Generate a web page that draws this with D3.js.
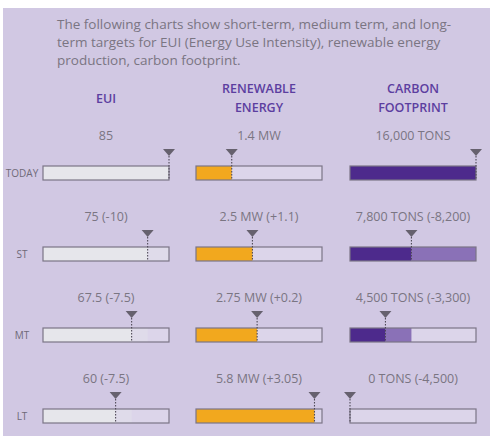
<!DOCTYPE html>
<html>
<head>
<meta charset="utf-8">
<script src="https://cdn.jsdelivr.net/npm/d3@7"></script>
<style>
  body { margin: 0; background: #fff; }
  svg { display: block; font-family: "Open Sans", sans-serif; }
</style>
</head>
<body>
<div id="chart"></div>
<script>
var width = 490,
    height = 436;

// ---- data ----
var introLines = [
  "The following charts show short-term, medium term, and long-",
  "term targets for EUI (Energy Use Intensity), renewable energy",
  "production, carbon footprint."
];
var rowNames = ["TODAY", "ST", "MT", "LT"];

var euiValues = [85, 75, 67.5, 60];
var euiLabels = ["85", "75 (-10)", "67.5 (-7.5)", "60 (-7.5)"];
var euiShowChange = [false, true, true, true];

var renewableValues = [1.4, 2.5, 2.75, 5.8];
var renewableLabels = ["1.4 MW", "2.5 MW (+1.1)", "2.75 MW (+0.2)", "5.8 MW (+3.05)"];
var renewableShowChange = [false, false, false, false];

var carbonValues = [16000, 7800, 4500, 0];
var carbonLabels = ["16,000 TONS", "7,800 TONS (-8,200)", "4,500 TONS (-3,300)", "0 TONS (-4,500)"];
var carbonShowChange = [false, true, true, false];

var bg = "#d1c8e3",
    rest = "#dcd5ea",
    outline = "#7b7586",
    marker = "#66616e",
    textGray = "#7a7582",
    headColor = "#5c3ea0";

var svg = d3.select("#chart").append("svg")
    .attr("width", width)
    .attr("height", height);

svg.append("rect")
    .attr("x", 3).attr("y", 8)
    .attr("width", width - 3).attr("height", height - 8)
    .attr("fill", bg);

// intro paragraph
svg.append("g").selectAll("text")
    .data(introLines)
    .enter()
    .append("text")
    .attr("x", 57)
    .attr("y", function (d, i) { return 29 + i * 18; })
    .attr("fill", textGray)
    .style("font-size", "13.5px")
    .text(function (d) { return d; });

// bar layout
var barW = 126, barH = 14;
var rowY = d3.scalePoint().domain(rowNames).range([166, 409]);

var columns = [
  { title: ["EUI"], x0: 43, values: euiValues, labels: euiLabels, change: euiShowChange,
    scale: d3.scaleLinear().domain([26, 85]),
    fill: "#e6e6eb", delta: "#dfdbea" },
  { title: ["RENEWABLE", "ENERGY"], x0: 196, values: renewableValues, labels: renewableLabels, change: renewableShowChange,
    scale: d3.scaleLinear().domain([-0.5, 6.2]),
    fill: "#f2a81e", delta: "#f2a81e" },
  { title: ["CARBON", "FOOTPRINT"], x0: 350, values: carbonValues, labels: carbonLabels, change: carbonShowChange,
    scale: d3.scaleLinear().domain([0, 16000]),
    fill: "#4d2a8c", delta: "#8a71b7" }
];

// row labels
svg.append("g").selectAll("text")
    .data(rowNames)
    .enter()
    .append("text")
    .attr("x", 22)
    .attr("y", function (d) { return rowY(d) + barH / 2 + 3.5; })
    .attr("text-anchor", "middle")
    .attr("fill", "#6f6a78")
    .style("font-size", "10px")
    .text(function (d) { return d; });

columns.forEach(function (col) {
  col.scale.range([col.x0, col.x0 + barW]).clamp(true);
  var cx = col.x0 + barW / 2;
  var g = svg.append("g");

  // header
  var top = col.title.length === 1 ? 103 : 93;
  g.selectAll(".head")
      .data(col.title)
      .enter()
      .append("text")
      .attr("x", cx)
      .attr("y", function (d, i) { return top + i * 19; })
      .attr("text-anchor", "middle")
      .attr("fill", headColor)
      .style("font-size", "12.5px")
      .style("font-weight", "600")
      .text(function (d) { return d; });

  col.values.forEach(function (v, i) {
    var y = rowY(rowNames[i]);
    var row = g.append("g");
    var xv = col.scale(v);
    var x0 = col.x0;

    row.append("text")
        .attr("x", cx)
        .attr("y", y - 26)
        .attr("text-anchor", "middle")
        .attr("fill", textGray)
        .style("font-size", "12.5px")
        .text(col.labels[i]);

    // empty bar
    row.append("rect")
        .attr("x", x0).attr("y", y)
        .attr("width", barW).attr("height", barH)
        .attr("fill", rest);

    // change from previous target
    if (col.change[i]) {
      var xp = col.scale(col.values[i - 1]);
      row.append("rect")
          .attr("x", xv).attr("y", y)
          .attr("width", Math.max(0, xp - xv)).attr("height", barH)
          .attr("fill", col.delta);
    }

    // current value
    row.append("rect")
        .attr("x", x0).attr("y", y)
        .attr("width", Math.max(0, xv - x0)).attr("height", barH)
        .attr("fill", col.fill);

    // outline
    row.append("rect")
        .attr("x", x0).attr("y", y)
        .attr("width", barW).attr("height", barH)
        .attr("fill", "none")
        .attr("stroke", outline)
        .attr("stroke-width", 1.2);

    // marker
    row.append("path")
        .attr("d", "M" + (xv - 6) + "," + (y - 17) + "L" + (xv + 6) + "," + (y - 17) + "L" + xv + "," + (y - 10) + "Z")
        .attr("fill", marker);

    row.append("line")
        .attr("x1", xv).attr("x2", xv)
        .attr("y1", y - 10).attr("y2", y + barH)
        .attr("stroke", "#4f4a57")
        .attr("stroke-width", 1.1)
        .attr("stroke-dasharray", "1.5,1.5");
  });
});
</script>
</body>
</html>
